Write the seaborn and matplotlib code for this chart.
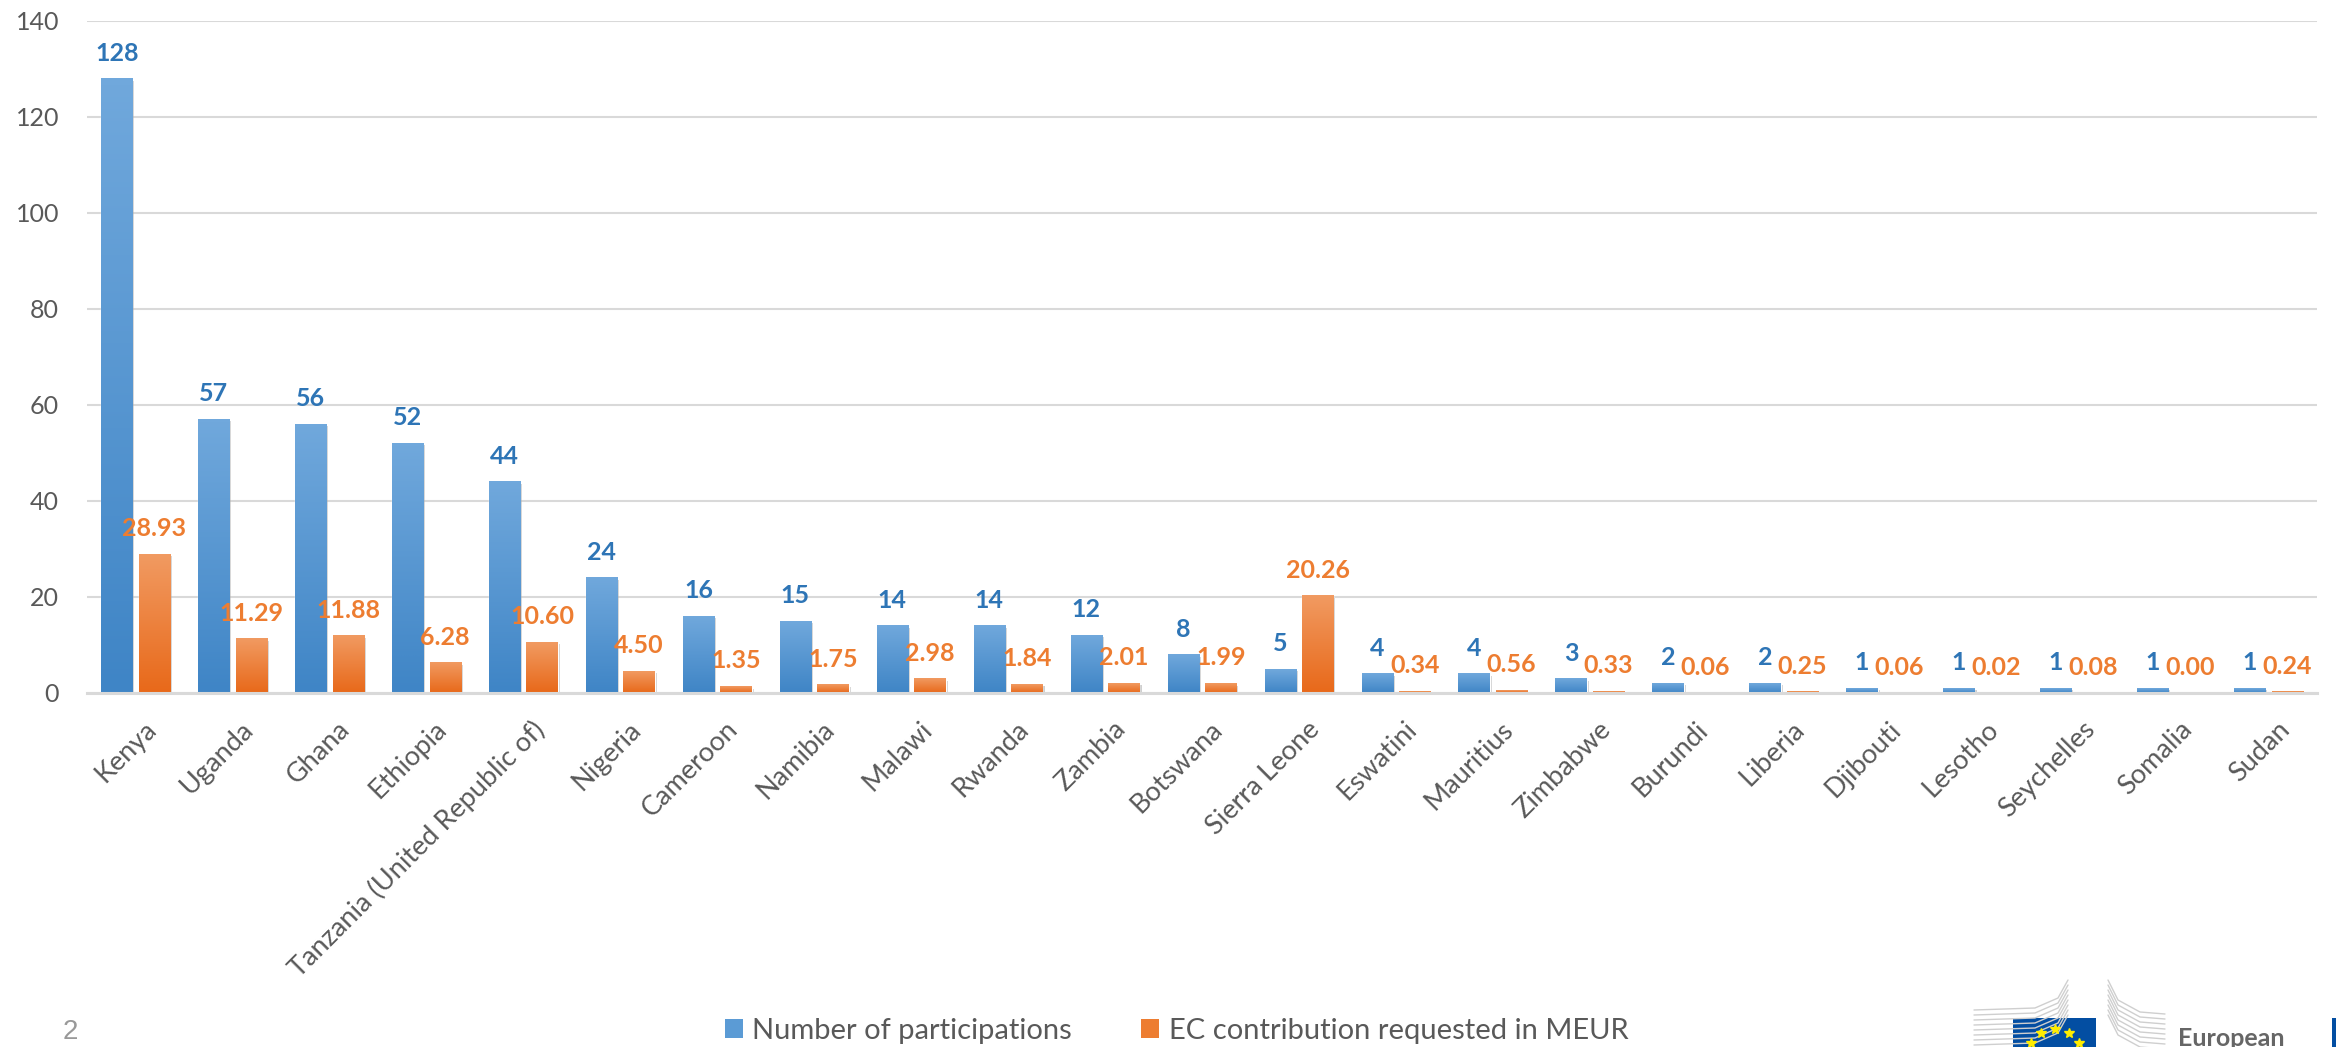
import matplotlib
matplotlib.use("Agg")
import numpy as np
import pandas as pd
import matplotlib.pyplot as plt
import matplotlib.patheffects as pe
import matplotlib.transforms as mtransforms
from matplotlib.patches import Patch, Rectangle
from matplotlib.lines import Line2D
from matplotlib.colors import LinearSegmentedColormap
import seaborn as sns

# Data
countries = ["Kenya", "Uganda", "Ghana", "Ethiopia", "Tanzania (United Republic of)",
             "Nigeria", "Cameroon", "Namibia", "Malawi", "Rwanda", "Zambia", "Botswana",
             "Sierra Leone", "Eswatini", "Mauritius", "Zimbabwe", "Burundi", "Liberia",
             "Djibouti", "Lesotho", "Seychelles", "Somalia", "Sudan"]
participations = [128, 57, 56, 52, 44, 24, 16, 15, 14, 14, 12, 8, 5, 4, 4, 3, 2, 2, 1, 1, 1, 1, 1]
ec_contribution = [28.93, 11.29, 11.88, 6.28, 10.60, 4.50, 1.35, 1.75, 2.98, 1.84, 2.01, 1.99,
                   20.26, 0.34, 0.56, 0.33, 0.06, 0.25, 0.06, 0.02, 0.08, 0.00, 0.24]
series_names = ["Number of participations", "EC contribution requested in MEUR"]

df = pd.DataFrame({
    "country": countries * 2,
    "value": participations + ec_contribution,
    "series": [series_names[0]] * len(countries) + [series_names[1]] * len(countries),
})

sns.set_theme(style="white")
plt.rcParams["font.family"] = ["Lato", "DejaVu Sans"]

W, H = 2341, 1047
fig = plt.figure(figsize=(W / 100, H / 100), dpi=100)
ax = fig.add_axes([87 / W, 1 - 693 / H, (2317 - 87) / W, (693 - 21) / H])

sns.barplot(data=df, x="country", y="value", hue="series", order=countries,
            hue_order=series_names, palette=["#5b9bd5", "#ed7d31"], saturation=1,
            width=0.775, gap=0.17, legend=False, ax=ax)

# gradient fill like the Excel original
grads = [("#3f85c6", "#70a8dc"), ("#e8691a", "#f19a61")]
for cont, (bottom, top) in zip(ax.containers, grads):
    cmap = LinearSegmentedColormap.from_list("g", [bottom, top])
    for bar in cont:
        h = bar.get_height()
        if h <= 0:
            continue
        x0, w = bar.get_x(), bar.get_width()
        bar.set_path_effects([pe.SimplePatchShadow(offset=(1.5, -1.5), shadow_rgbFace="#777777", alpha=0.35),
                              pe.Normal()])
        ax.imshow(np.linspace(0, 1, 64).reshape(-1, 1), extent=[x0, x0 + w, 0, h], origin="lower",
                  aspect="auto", cmap=cmap, zorder=bar.get_zorder() + 0.1, interpolation="bilinear")

# data labels
label_colors = ["#2e75b6", "#ed7d31"]
formats = ["{:d}", "{:.2f}"]
for cont, vals, col, fmt in zip(ax.containers, [participations, ec_contribution], label_colors, formats):
    for bar, v in zip(cont, vals):
        ax.annotate(fmt.format(v), (bar.get_x() + bar.get_width() / 2, bar.get_height()),
                    xytext=(0, 13), textcoords="offset points", ha="center", va="baseline",
                    fontsize=18, fontweight="bold", color=col, zorder=5)

ax.set_xlim(-0.5, len(countries) - 0.5)
ax.set_ylim(0, 140)
ax.set_yticks(range(0, 141, 20))
ax.yaxis.grid(True, color="#d9d9d9", linewidth=1.5)
ax.xaxis.grid(False)
ax.set_axisbelow(True)
for s in ["top", "right", "left"]:
    ax.spines[s].set_visible(False)
ax.spines["bottom"].set_color("#d9d9d9")
ax.spines["bottom"].set_linewidth(2.2)
ax.set_xlabel("")
ax.set_ylabel("")

ax.tick_params(axis="y", length=0, labelsize=18, colors="#595959", pad=20)
ax.tick_params(axis="x", length=0, labelsize=19.5, colors="#595959", pad=17)
ax.set_xticks(range(len(countries)))
ax.set_xticklabels(countries, rotation=45, ha="right", rotation_mode="anchor")
shift = mtransforms.ScaledTranslation(8 / 100, 0, fig.dpi_scale_trans)
for lab in ax.get_xticklabels():
    lab.set_transform(lab.get_transform() + shift)

# legend
handles = [Patch(facecolor=c, edgecolor="none", label=n)
           for c, n in zip(["#5b9bd5", "#ed7d31"], series_names)]
fig.legend(handles=handles, loc="center", bbox_to_anchor=(0.5025, 1 - 1031 / H), ncol=2,
           frameon=False, fontsize=21, handlelength=0.62, handleheight=0.62,
           handletextpad=0.31, columnspacing=2.4, labelcolor="#595959")

# slide page number
fig.text(63 / W, 1 - 1045 / H, "2", fontsize=20, color="#999999", va="bottom",
         family="Liberation Sans")

# EC logo fragment at the bottom right
for k in range(8):
    xs = np.array([1974, 2035, 2058, 2068]) / W
    ys = 1 - np.array([1010 + k * 5, 1008 + k * 5, 998 + k * 5, 980 + k * 5]) / H
    fig.add_artist(Line2D(xs, ys, transform=fig.transFigure, color="#cfcfcf", lw=1))
    xs2 = np.array([2108, 2118, 2140, 2165]) / W
    ys2 = 1 - np.array([980 + k * 5, 1000 + k * 5, 1012 + k * 5, 1014 + k * 5]) / H
    fig.add_artist(Line2D(xs2, ys2, transform=fig.transFigure, color="#cfcfcf", lw=1))
fig.add_artist(Rectangle((2013 / W, 0), 83 / W, 29 / H, transform=fig.transFigure,
                         facecolor="#034ea2", edgecolor="none"))
ang = np.deg2rad(np.arange(0, 360, 30))
sx = (2055 + 28 * np.sin(ang)) / W
sy = 1 - (1057 - 28 * np.cos(ang)) / H
fig.add_artist(Line2D(sx, sy, transform=fig.transFigure, marker="*", ls="none",
                      color="#ffed00", markersize=7))
fig.text(2178 / W, 1 - 1046 / H, "European", fontsize=18, fontweight="bold", color="#666666",
         va="baseline")
fig.add_artist(Rectangle((2332 / W, 0), 4 / W, 29 / H, transform=fig.transFigure,
                         facecolor="#034ea2", edgecolor="none"))

fig.savefig("out.png", dpi=100)
